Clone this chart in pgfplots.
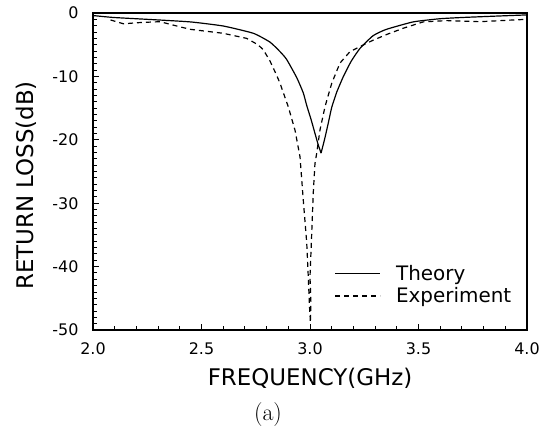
\documentclass[border=0pt]{standalone}
\usepackage{fontspec}
\usepackage{pgfplots}
\pgfplotsset{compat=1.18}
\newfontfamily\plotfont{DejaVu Sans}
\newfontfamily\capfont{Latin Modern Roman}

\begin{document}
\begin{tikzpicture}[x=1bp,y=1bp]
\begin{axis}[
  at={(0,0)}, anchor=south west,
  scale only axis,
  width=434bp, height=317bp,
  xmin=2, xmax=4, ymin=-50, ymax=0,
  xtick={2,2.5,3,3.5,4},
  ytick={-50,-40,-30,-20,-10,0},
  minor x tick num=4,
  minor y tick num=9,
  xtick pos=bottom, ytick pos=left,
  tick align=inside,
  major tick length=6bp, minor tick length=4bp,
  every tick/.style={black, line width=0.9pt},
  axis line style={line width=1.4pt},
  xticklabel style={/pgf/number format/fixed, /pgf/number format/fixed zerofill, /pgf/number format/precision=1, yshift=-9bp},
  /pgf/number format/assume math mode=true,
  tick label style={font=\plotfont\fontsize{16}{18}\selectfont},
  yticklabel style={xshift=-11bp},
  xlabel={FREQUENCY(GHz)},
  ylabel={RETURN LOSS(dB)},
  label style={font=\plotfont\fontsize{23}{26}\selectfont},
  xlabel style={yshift=-7bp},
  ylabel style={yshift=9bp, xshift=-14bp},
  legend style={draw=none, fill=none, at={(0.55,0.068)}, anchor=south west,
    font=\plotfont\fontsize{20}{23}\selectfont, row sep=1.5bp},
  legend cell align=left,
  legend image code/.code={\draw[#1] (0bp,0bp) -- (45bp,0bp); \path (58bp,0bp);},
]
\addplot[black, line width=1.2pt, smooth, tension=0.3] coordinates {
  (2.000,-0.4) (2.092,-0.7) (2.25,-1.0) (2.447,-1.4) (2.600,-2.05)
  (2.739,-3.2) (2.816,-4.6) (2.862,-6.1) (2.892,-7.3) (2.939,-10.2)
  (2.969,-12.6) (2.985,-14.6) (3.005,-16.8) (3.023,-19.0) (3.038,-20.8)
  (3.051,-22.1)
};
\addplot[black, line width=1.2pt, smooth, tension=0.3, forget plot] coordinates {
  (3.051,-22.1) (3.068,-19.8) (3.084,-17.4) (3.100,-14.9) (3.123,-12.5)
  (3.154,-10.0) (3.190,-7.6) (3.230,-5.6) (3.29,-3.6) (3.35,-2.6)
  (3.476,-1.4) (3.60,-0.9) (3.707,-0.7) (3.85,-0.5) (4.000,-0.3)
};
\addplot[black, line width=1.2pt, dash pattern=on 5bp off 4bp] coordinates {
  (2.081,-1.1) (2.140,-1.7) (2.22,-1.5) (2.309,-1.37) (2.38,-2.0)
  (2.447,-2.57) (2.600,-3.2) (2.708,-4.0) (2.760,-5.0) (2.785,-5.8)
  (2.816,-7.6) (2.846,-9.8) (2.862,-11.1) (2.900,-14.8) (2.931,-18.5)
  (2.954,-22.7) (2.969,-29.5) (2.985,-36.3) (2.992,-41.6) (2.998,-46.5)
  (3.002,-48.8) (3.004,-45.5) (3.000,-41.6) (3.008,-34.7) (3.015,-28.4)
  (3.023,-23.7) (3.031,-22.1) (3.046,-18.45) (3.069,-14.8) (3.100,-11.1)
  (3.138,-7.9) (3.184,-6.1) (3.230,-5.3) (3.290,-4.3) (3.360,-3.3)
  (3.430,-2.4) (3.522,-1.4) (3.630,-1.2) (3.783,-1.37) (3.937,-1.1)
  (4.000,-1.0)
};
\legend{Theory, Experiment}
\end{axis}
\node[font=\capfont\fontsize{24}{26}\selectfont] at (175bp,-85bp) {(a)};
\pgfresetboundingbox
\path[use as bounding box] (-93bp,-102bp) rectangle (454bp,330bp);
\end{tikzpicture}
\end{document}
